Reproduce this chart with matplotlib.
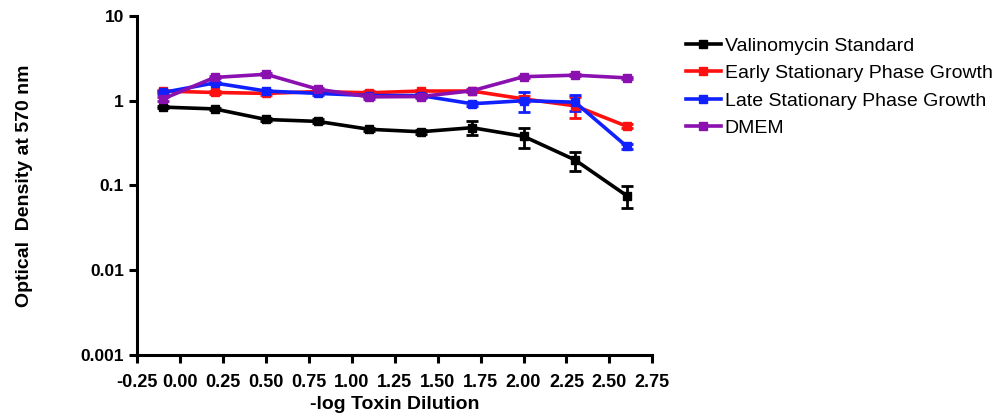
import numpy as np
import matplotlib
matplotlib.use("Agg")
import matplotlib.pyplot as plt
from matplotlib.lines import Line2D

plt.rcParams['font.family'] = ['Liberation Sans', 'DejaVu Sans']

# -log toxin dilution
dilution = [-0.1, 0.2, 0.5, 0.8, 1.1, 1.4, 1.7, 2.0, 2.3, 2.6]

valinomycin = [0.84, 0.80, 0.60, 0.57, 0.46, 0.43, 0.48, 0.38, 0.20, 0.076]
valinomycin_err = [0.03, 0.03, 0.03, 0.03, 0.02, 0.02, 0.09, 0.10, 0.05, 0.022]

early = [1.30, 1.25, 1.22, 1.28, 1.24, 1.30, 1.30, 1.05, 0.87, 0.50]
early_err = [0.05, 0.05, 0.05, 0.05, 0.05, 0.05, 0.05, 0.08, 0.25, 0.03]

late = [1.25, 1.62, 1.30, 1.22, 1.15, 1.15, 0.92, 1.00, 0.96, 0.29]
late_err = [0.05, 0.05, 0.05, 0.05, 0.05, 0.05, 0.05, 0.27, 0.20, 0.02]

dmem = [1.05, 1.88, 2.05, 1.37, 1.11, 1.12, 1.31, 1.92, 2.00, 1.86]
dmem_err = [0.05, 0.05, 0.05, 0.05, 0.05, 0.05, 0.05, 0.06, 0.06, 0.06]

series = [
    ("Valinomycin Standard", valinomycin, valinomycin_err, "#000000"),
    ("Early Stationary Phase Growth", early, early_err, "#ff1010"),
    ("Late Stationary Phase Growth", late, late_err, "#1020ff"),
    ("DMEM", dmem, dmem_err, "#8a10b0"),
]

xticks = np.arange(-0.25, 2.76, 0.25)

fig = plt.figure(figsize=(10.02, 4.2), dpi=100)
ax = fig.add_axes([0.137, 0.155, 0.514, 0.807])

handles = []
for name, vals, errs, color in series:
    ax.errorbar(dilution, vals, yerr=errs, color=color, lw=2.6, marker='s',
                markersize=6, capsize=4, elinewidth=2, capthick=2)
    handles.append(Line2D([], [], color=color, lw=2.6, marker='s', markersize=6, label=name))

ax.set_yscale('log')
ax.set_ylim(0.001, 10)
ax.set_xlim(-0.25, 2.75)
ax.set_xticks(xticks)
ax.set_xticklabels([f"{t:.2f}" for t in xticks])
ax.set_yticks([0.001, 0.01, 0.1, 1, 10])
ax.set_yticklabels(["0.001", "0.01", "0.1", "1", "10"])
ax.yaxis.set_minor_locator(matplotlib.ticker.NullLocator())

for side in ['top', 'right']:
    ax.spines[side].set_visible(False)
for side in ['left', 'bottom']:
    ax.spines[side].set_linewidth(2.2)
ax.tick_params(width=2.2, length=6, labelsize=12.5)
ax.tick_params(axis='x', pad=8, labelsize=13)
for lbl in ax.get_xticklabels() + ax.get_yticklabels():
    lbl.set_fontweight('bold')

ax.set_xlabel("-log Toxin Dilution", fontsize=14, fontweight='bold', labelpad=3)
ax.set_ylabel("Optical  Density at 570 nm", fontsize=14, fontweight='bold', labelpad=34)

ax.legend(handles=handles, loc='upper left', bbox_to_anchor=(1.05, 0.96), frameon=False,
          fontsize=14, handlelength=1.8, handletextpad=0.2, labelspacing=0.5,
          borderaxespad=0)

fig.savefig("out.png", dpi=100)
